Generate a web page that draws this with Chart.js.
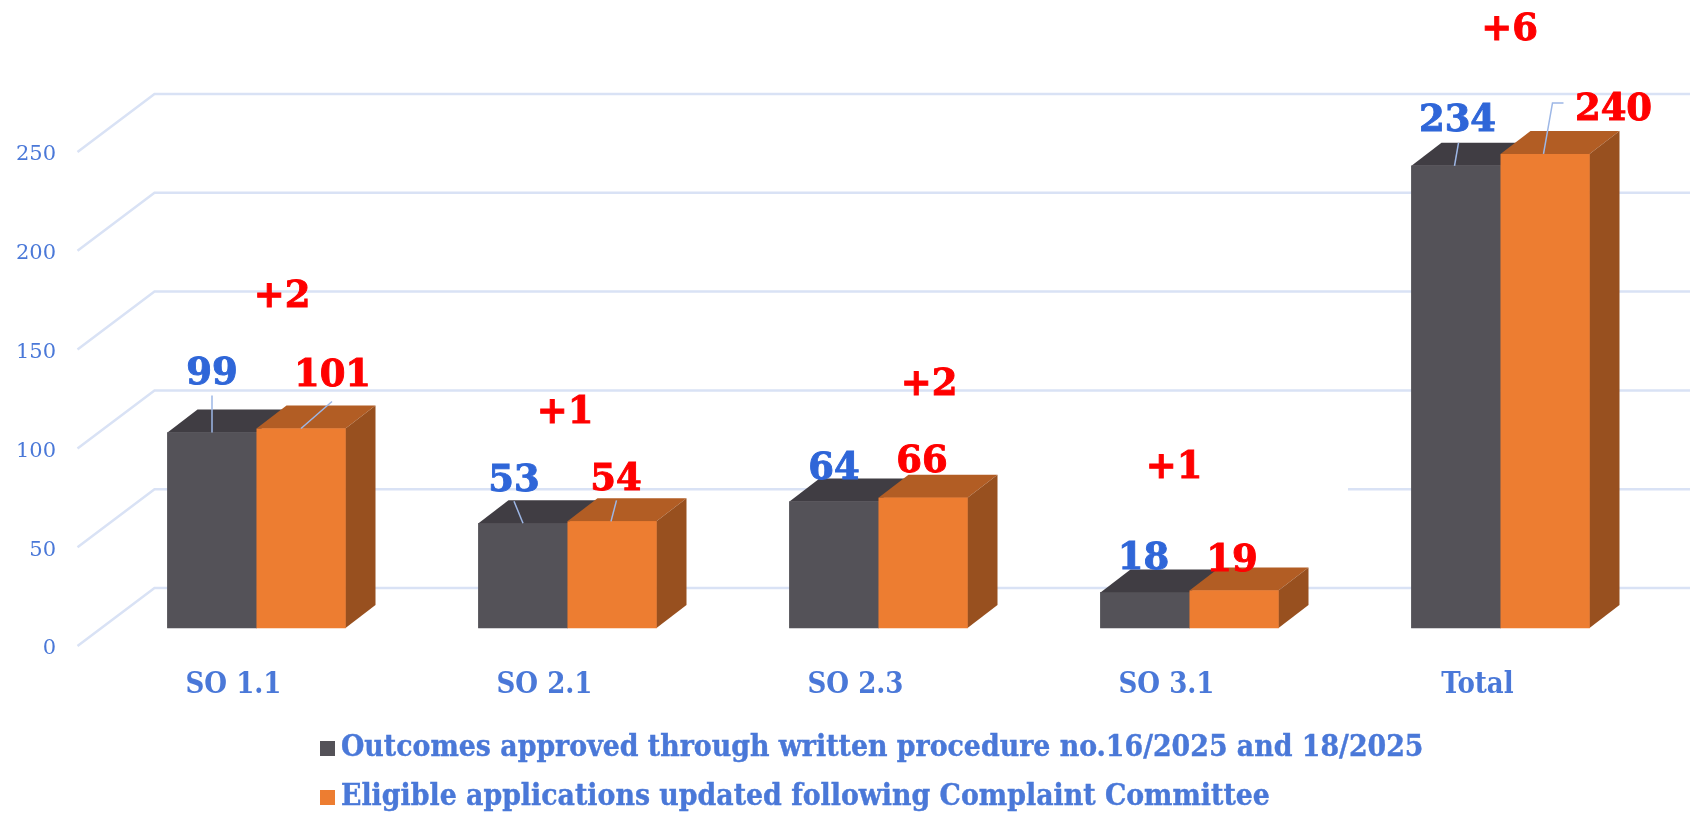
<!DOCTYPE html>
<html>
<head>
<meta charset="utf-8">
<script src="https://cdn.jsdelivr.net/npm/chart.js@4"></script>
<style>
  html, body { margin: 0; padding: 0; background: #fff; }
  #wrap { position: relative; width: 1690px; height: 815px; overflow: hidden; }
  .legend-row { position: absolute; left: 320px; height: 40px; white-space: nowrap;
    font: bold 29.8px/40px "DejaVu Serif Condensed", "DejaVu Serif", serif; color: #4a78d8;
    -webkit-text-stroke: 0.4px #4a78d8; }
  .legend-row i { display: inline-block; width: 15px; height: 15px; margin-right: 6px; }
</style>
</head>
<body>
<div id="wrap">
    <canvas id="chart" width="1690" height="815"></canvas>
    <div id="legend"></div>
</div>
<script>
const categories = ['SO 1.1', 'SO 2.1', 'SO 2.3', 'SO 3.1', 'Total'];
const seriesNames = [
    'Outcomes approved through written procedure no.16/2025 and 18/2025',
    'Eligible applications updated following Complaint Committee'
];
const approved = [99, 53, 64, 18, 234];
const updated = [101, 54, 66, 19, 240];
const differences = ['+2', '+1', '+2', '+1', '+6'];
const axisMax = 250;
const axisStep = 50;

// colours
const BLUE = '#4a78d8';
const LABEL_BLUE = '#2f66d8';
const RED = '#ff0000';
const GRID = '#d9e2f5';
const LEADER = '#9db7e6';
const faces = [
    {front: '#545258', top: '#403d43'},
    {front: '#ed7d31', top: '#b25d24', side: '#98501f'}
];

// fake 3d, in px
const DEPTH_X = 30;
const DEPTH_Y = 23;
const WALL_X = 77;
const WALL_Y = 58;
const CONDENSED = '"DejaVu Serif Condensed", "DejaVu Serif", serif';
const WIDE = '"DejaVu Serif", serif';

// hand placed labels, offset from the top centre of the bar, like in the original slide
const valueOffsets = [
    [[0, -58], [31.5, -52]],
    [[-9, -42], [4, -41]],
    [[0, -32], [-1, -35]],
    [[-1.5, -33], [-2, -29]],
    [[1.5, -44], [68.5, -44]]
];
const leaders = [
    [[[0, 0], [0, -37]], [[0, 0], [31, -27]]],
    [[[0, 0], [-9, -22]], [[-1, 0], [4.5, -21]]],
    [null, null],
    [null, null],
    [[[-1.5, 0], [2.5, -23]], [[-1.5, 0], [7.5, -51], [18.5, -51]]]
];
// offset from the left edge of the orange bar top
const diffPositions = [[25.7, -131], [-2.5, -108], [50.5, -112.6], [-15.5, -122], [9, -124]];
// a white text box hides this stretch of the 50 gridline in the original
const gridGap = {value: 50, from: 960, to: 1348};

const faces3d = {
    id: 'faces3d',
    beforeDatasetsDraw(chart) {
        const ctx = chart.ctx;
        const wall = chart.scales.yWall;
        ctx.save();
        ctx.strokeStyle = GRID;
        ctx.lineWidth = 2.5;
        wall.ticks.forEach(t => {
            const y = wall.getPixelForValue(t.value);
            ctx.beginPath();
            ctx.moveTo(chart.chartArea.left - 23.5, y);
            ctx.lineTo(chart.chartArea.left - 23.5 + WALL_X, y - WALL_Y);
            if (t.value === gridGap.value) {
                ctx.lineTo(gridGap.from, y - WALL_Y);
                ctx.moveTo(gridGap.to, y - WALL_Y);
            }
            ctx.lineTo(chart.width, y - WALL_Y);
            ctx.stroke();
        });
        ctx.restore();
    },
    afterDatasetsDraw(chart) {
        const ctx = chart.ctx;
        ctx.save();
        chart.data.datasets.forEach((ds, i) => {
            chart.getDatasetMeta(i).data.forEach(bar => {
                const l = bar.x - bar.width / 2;
                const r = bar.x + bar.width / 2;
                ctx.fillStyle = faces[i].top;
                ctx.beginPath();
                ctx.moveTo(l, bar.y);
                ctx.lineTo(l + DEPTH_X, bar.y - DEPTH_Y);
                ctx.lineTo(r + DEPTH_X, bar.y - DEPTH_Y);
                ctx.lineTo(r, bar.y);
                ctx.closePath();
                ctx.fill();
                if (!faces[i].side) return;
                ctx.fillStyle = faces[i].side;
                ctx.beginPath();
                ctx.moveTo(r, bar.y);
                ctx.lineTo(r + DEPTH_X, bar.y - DEPTH_Y);
                ctx.lineTo(r + DEPTH_X, bar.base - DEPTH_Y);
                ctx.lineTo(r, bar.base);
                ctx.closePath();
                ctx.fill();
            });
        });
        // redraw the front faces so the orange top sits over the grey one
        chart.data.datasets.forEach((ds, i) => {
            chart.getDatasetMeta(i).data.forEach(bar => {
                ctx.fillStyle = faces[i].front;
                ctx.fillRect(bar.x - bar.width / 2, bar.y, bar.width, bar.base - bar.y);
            });
        });
        ctx.restore();
    }
};

// heavier than plain bold, the original font is thick
function boldText(ctx, text, x, y, color) {
    ctx.fillStyle = color;
    ctx.strokeStyle = color;
    ctx.lineWidth = 0.9;
    ctx.fillText(text, x, y);
    ctx.strokeText(text, x, y);
}

const annotations = {
    id: 'annotations',
    afterDraw(chart) {
        const ctx = chart.ctx;
        ctx.save();
        ctx.textAlign = 'center';
        ctx.textBaseline = 'middle';
        ctx.font = 'bold 37px ' + WIDE;
        chart.data.datasets.forEach((ds, i) => {
            chart.getDatasetMeta(i).data.forEach((bar, j) => {
                const line = leaders[j][i];
                if (line) {
                    ctx.strokeStyle = LEADER;
                    ctx.lineWidth = 1.5;
                    ctx.beginPath();
                    line.forEach((p, k) => {
                        if (k === 0) ctx.moveTo(bar.x + p[0], bar.y + p[1]);
                        else ctx.lineTo(bar.x + p[0], bar.y + p[1]);
                    });
                    ctx.stroke();
                }
                const off = valueOffsets[j][i];
                boldText(ctx, ds.data[j], bar.x + off[0], bar.y + off[1], i === 0 ? LABEL_BLUE : RED);
            });
        });
        const tops = chart.getDatasetMeta(1).data;
        differences.forEach((d, j) => {
            const p = diffPositions[j];
            boldText(ctx, d, tops[j].x - tops[j].width / 2 + p[0], tops[j].y + p[1], RED);
        });
        ctx.restore();
    }
};

new Chart(document.getElementById('chart'), {
    type: 'bar',
    data: {
        labels: categories,
        datasets: [
            {label: seriesNames[0], data: approved, backgroundColor: faces[0].front},
            {label: seriesNames[1], data: updated, backgroundColor: faces[1].front}
        ]
    },
    options: {
        responsive: false,
        animation: false,
        layout: {padding: {top: 152, right: 34}},
        datasets: {bar: {barThickness: 89}},
        plugins: {
            tooltip: {enabled: false},
            legend: {display: false}
        },
        scales: {
            x: {
                grid: {display: false},
                border: {display: false},
                afterFit(scale) { scale.height = 169; },
                ticks: {
                    color: BLUE,
                    labelOffset: -23,
                    padding: 14,
                    font: {family: CONDENSED, weight: 'bold', size: 29}
                }
            },
            // bars: zero sits above the bottom of the plot because of the 3d floor
            y: {
                display: false,
                min: -9.11,
                max: 241
            },
            // wall scale, only used for the tick labels and the grid
            yWall: {
                position: 'left',
                min: 0,
                max: axisMax,
                grid: {display: false},
                border: {display: false},
                afterFit(scale) { scale.width = 101; },
                ticks: {
                    stepSize: axisStep,
                    color: BLUE,
                    padding: 37,
                    labelOffset: 3,
                    font: {family: WIDE, size: 21}
                }
            }
        }
    },
    plugins: [faces3d, annotations]
});

// legend in html, two left aligned rows under the plot
seriesNames.forEach((name, i) => {
    const row = document.createElement('div');
    row.className = 'legend-row';
    row.style.top = (726 + i * 49) + 'px';
    const box = document.createElement('i');
    box.style.background = faces[i].front;
    row.appendChild(box);
    row.appendChild(document.createTextNode(name));
    document.getElementById('legend').appendChild(row);
});
</script>
</body>
</html>
